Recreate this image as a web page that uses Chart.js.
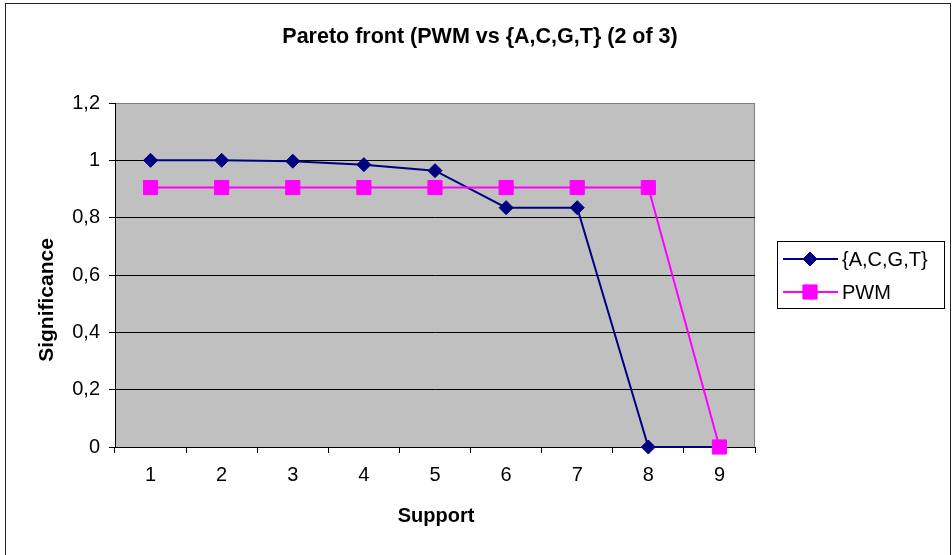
<!DOCTYPE html>
<html>
<head>
<meta charset="utf-8">
<script src="https://cdn.jsdelivr.net/npm/chart.js@4/dist/chart.umd.min.js"></script>
<style>
  html, body { margin: 0; padding: 0; background: #ffffff; }
</style>
</head>
<body>
<canvas id="chart" width="952" height="555"></canvas>
<script>
// Support levels on the x axis
const supportLabels = ['1', '2', '3', '4', '5', '6', '7', '8', '9'];
// Significance of each motif model at every support level
const acgtValues = [1.0, 1.0, 0.997, 0.985, 0.964, 0.835, 0.835, 0, 0];
const pwmValues = [0.905, 0.905, 0.905, 0.905, 0.905, 0.905, 0.905, 0.905, 0];
// Value axis ticks
const yTicks = [0, 0.2, 0.4, 0.6, 0.8, 1.0, 1.2];

const chartTitle = 'Pareto front (PWM vs {A,C,G,T} (2 of 3)';
const xTitle = 'Support';
const yTitle = 'Significance';

const FONT = '"Liberation Sans", Arial, sans-serif';
const TEXT_SIZE = 20;

// Grey plot area with its frame, plus the outer chart frame
const frames = {
  id: 'frames',
  beforeDraw(chart) {
    const { ctx, chartArea: a } = chart;
    ctx.save();
    ctx.fillStyle = '#ffffff';
    ctx.fillRect(0, 0, chart.width, chart.height);
    ctx.fillStyle = '#c0c0c0';
    ctx.fillRect(a.left, a.top, a.right - a.left, a.bottom - a.top);
    ctx.strokeStyle = '#808080';
    ctx.lineWidth = 1;
    ctx.strokeRect(a.left + 0.5, a.top + 0.5, a.right - a.left - 1, a.bottom - a.top);
    ctx.strokeStyle = '#222222';
    ctx.strokeRect(5.5, 3.5, chart.width - 7, chart.height + 10);
    ctx.restore();
  }
};

// Title texts and the boxed legend with line + marker samples
const annotations = {
  id: 'annotations',
  afterDraw(chart) {
    const { ctx } = chart;
    ctx.save();
    ctx.fillStyle = '#000000';
    ctx.textAlign = 'center';
    ctx.textBaseline = 'alphabetic';
    ctx.font = 'bold 21.5px ' + FONT;
    ctx.fillText(chartTitle, 480, 43);
    ctx.font = 'bold ' + TEXT_SIZE + 'px ' + FONT;
    ctx.fillText(xTitle, 436, 522);
    ctx.save();
    ctx.font = 'bold 21px ' + FONT;
    ctx.translate(53, 300);
    ctx.rotate(-Math.PI / 2);
    ctx.fillText(yTitle, 0, 0);
    ctx.restore();

    // legend
    const box = { x: 777.5, y: 241.5, w: 167, h: 67 };
    ctx.strokeStyle = '#000000';
    ctx.lineWidth = 1;
    ctx.strokeRect(box.x, box.y, box.w, box.h);
    const rows = [259, 292];
    chart.data.datasets.forEach((ds, i) => {
      const y = rows[i];
      ctx.strokeStyle = ds.borderColor;
      ctx.lineWidth = ds.borderWidth;
      ctx.beginPath();
      ctx.moveTo(783, y);
      ctx.lineTo(838, y);
      ctx.stroke();
      ctx.fillStyle = ds.pointBackgroundColor;
      ctx.strokeStyle = ds.pointBorderColor;
      ctx.lineWidth = ds.pointBorderWidth;
      Chart.helpers.drawPoint(ctx, {
        pointStyle: ds.pointStyle,
        radius: ds.pointRadius,
        rotation: 0,
        borderWidth: ds.pointBorderWidth
      }, 810, y);
      ctx.fillStyle = '#000000';
      ctx.font = TEXT_SIZE + 'px ' + FONT;
      ctx.textAlign = 'left';
      ctx.textBaseline = 'middle';
      ctx.fillText(ds.label, 842, y + 1);
    });
    ctx.restore();
  }
};

new Chart(document.getElementById('chart'), {
  type: 'line',
  data: {
    labels: supportLabels,
    datasets: [
      {
        label: '{A,C,G,T}',
        data: acgtValues,
        borderColor: '#000080',
        backgroundColor: '#000080',
        borderWidth: 2,
        pointStyle: 'rectRot',
        pointRadius: 7,
        pointBackgroundColor: '#000080',
        pointBorderColor: '#000080',
        pointBorderWidth: 1,
        tension: 0,
        clip: false,
        order: 2
      },
      {
        label: 'PWM',
        data: pwmValues,
        borderColor: '#ff00ff',
        backgroundColor: '#ff00ff',
        borderWidth: 2,
        pointStyle: 'rect',
        pointRadius: 10,
        pointBackgroundColor: '#ff00ff',
        pointBorderColor: '#ff00ff',
        pointBorderWidth: 1,
        tension: 0,
        clip: false,
        order: 1
      }
    ]
  },
  options: {
    responsive: false,
    animation: false,
    devicePixelRatio: 1,
    layout: { padding: { left: 0, top: 103, right: 197, bottom: 0 } },
    plugins: {
      legend: { display: false },
      title: { display: false },
      tooltip: { enabled: false }
    },
    scales: {
      x: {
        type: 'category',
        offset: true,
        afterFit(scale) { scale.height = 108; },
        grid: {
          offset: true,
          drawOnChartArea: false,
          drawTicks: true,
          tickLength: 6,
          tickColor: '#000000'
        },
        border: { display: true, color: '#000000', width: 1 },
        ticks: {
          color: '#000000',
          padding: 10,
          maxRotation: 0,
          font: { family: FONT, size: TEXT_SIZE }
        }
      },
      y: {
        min: 0,
        max: 1.2,
        afterFit(scale) { scale.width = 115; },
        afterBuildTicks(scale) { scale.ticks = yTicks.map(v => ({ value: v })); },
        grid: {
          color: (c) => (c.tick && Math.abs(c.tick.value - 1.2) < 1e-9) ? '#808080' : '#000000',
          lineWidth: 1,
          tickLength: 6,
          tickColor: '#000000'
        },
        border: { display: true, color: '#000000', width: 1 },
        ticks: {
          color: '#000000',
          padding: 9,
          font: { family: FONT, size: TEXT_SIZE },
          callback: (v) => String(Math.round(v * 10) / 10).replace('.', ',')
        }
      }
    }
  },
  plugins: [frames, annotations]
});
</script>
</body>
</html>
